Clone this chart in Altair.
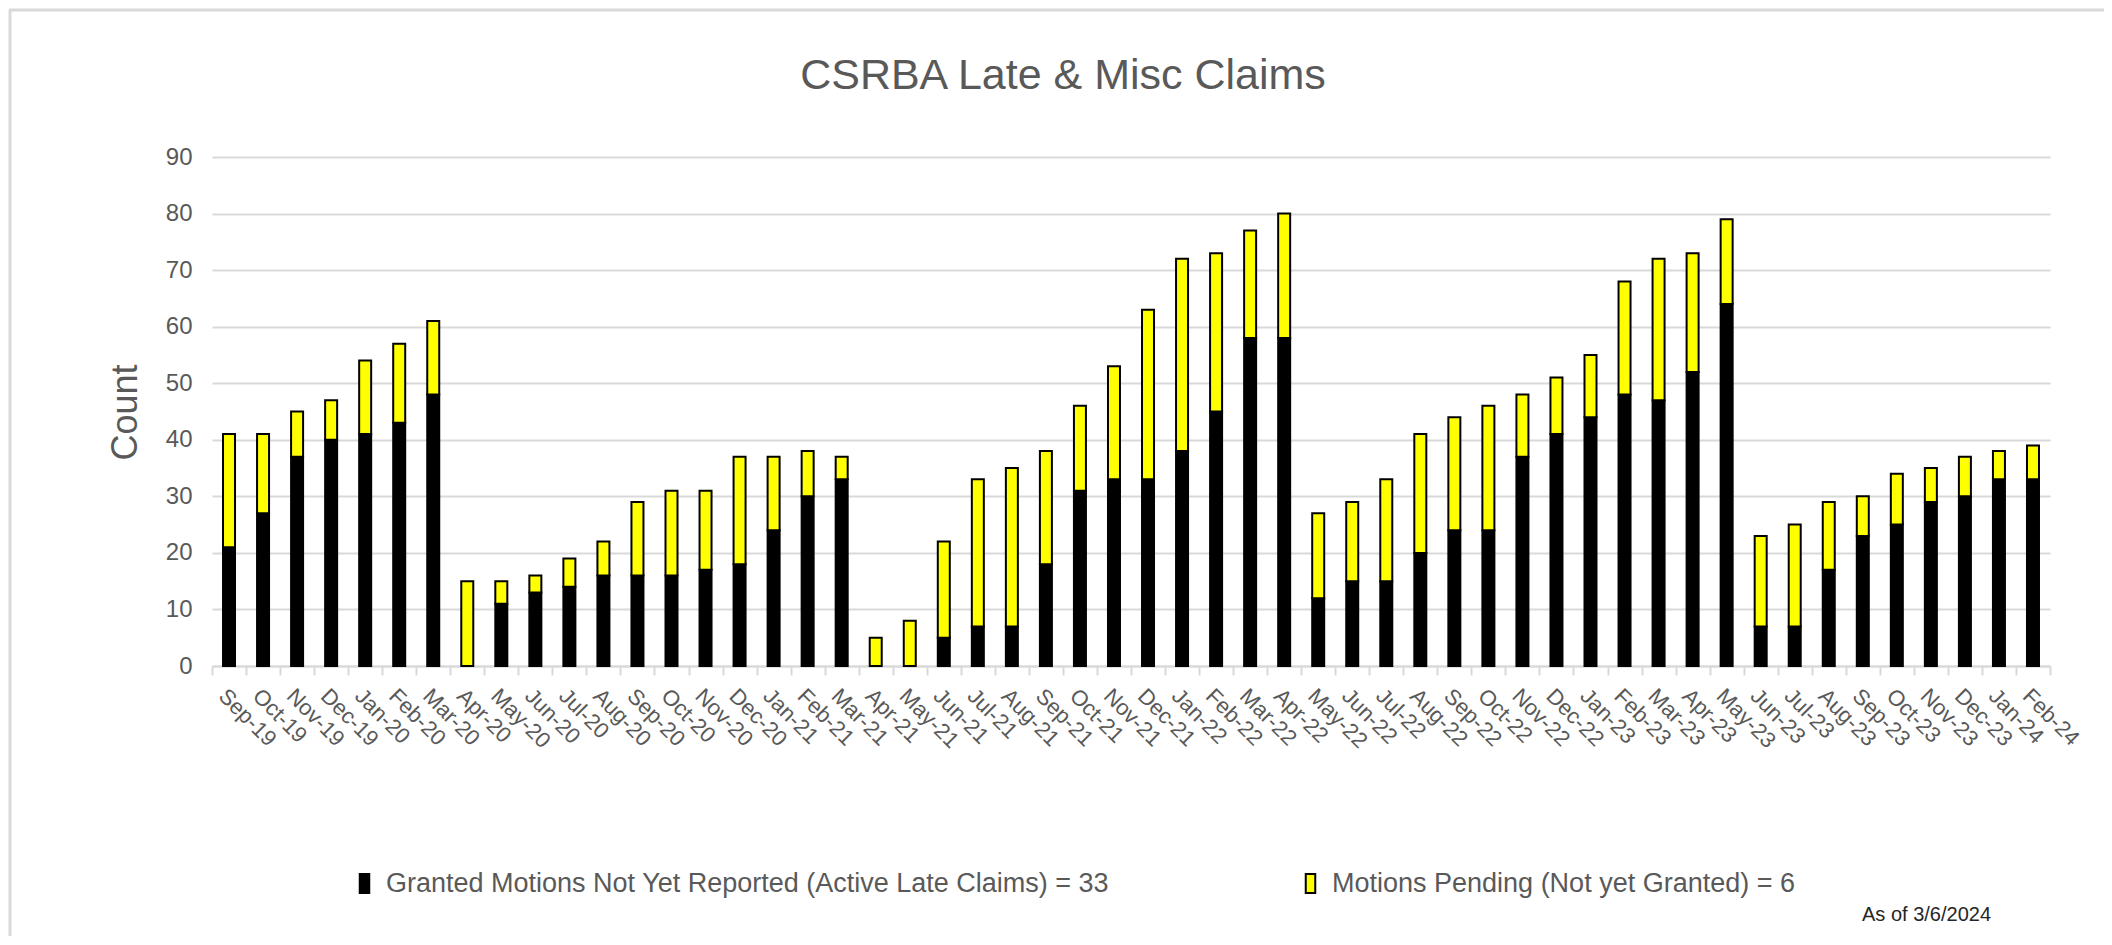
import altair as alt
import pandas as pd

months = ["Sep-19", "Oct-19", "Nov-19", "Dec-19",
          "Jan-20", "Feb-20", "Mar-20", "Apr-20", "May-20", "Jun-20", "Jul-20", "Aug-20", "Sep-20", "Oct-20", "Nov-20", "Dec-20",
          "Jan-21", "Feb-21", "Mar-21", "Apr-21", "May-21", "Jun-21", "Jul-21", "Aug-21", "Sep-21", "Oct-21", "Nov-21", "Dec-21",
          "Jan-22", "Feb-22", "Mar-22", "Apr-22", "May-22", "Jun-22", "Jul-22", "Aug-22", "Sep-22", "Oct-22", "Nov-22", "Dec-22",
          "Jan-23", "Feb-23", "Mar-23", "Apr-23", "May-23", "Jun-23", "Jul-23", "Aug-23", "Sep-23", "Oct-23", "Nov-23", "Dec-23",
          "Jan-24", "Feb-24"]

granted = [21, 27, 37, 40,
           41, 43, 48, 0, 11, 13, 14, 16, 16, 16, 17, 18,
           24, 30, 33, 0, 0, 5, 7, 7, 18, 31, 33, 33,
           38, 45, 58, 58, 12, 15, 15, 20, 24, 24, 37, 41,
           44, 48, 47, 52, 64, 7, 7, 17, 23, 25, 29, 30,
           33, 33]

pending = [20, 14, 8, 7,
           13, 14, 13, 15, 4, 3, 5, 6, 13, 15, 14, 19,
           13, 8, 4, 5, 8, 17, 26, 28, 20, 15, 20, 30,
           34, 28, 19, 22, 15, 14, 18, 21, 20, 22, 11, 10,
           11, 20, 25, 21, 15, 16, 18, 12, 7, 9, 6, 7,
           5, 6]

series_names = ["Granted Motions Not Yet Reported (Active Late Claims) = 33",
                "Motions Pending (Not yet Granted) = 6"]
series_colors = ["#000000", "#FFFF00"]
y_ticks = [0, 10, 20, 30, 40, 50, 60, 70, 80, 90]
title_text = "CSRBA Late & Misc Claims"
y_title = "Count"
note_text = "As of 3/6/2024"

rows = []
for m, g, p in zip(months, granted, pending):
    rows.append({"month": m, "series": series_names[0], "ord": 0, "count": g})
    rows.append({"month": m, "series": series_names[1], "ord": 1, "count": p})
df = pd.DataFrame(rows)

FONT = "Liberation Sans"
GRAY = "#595959"
GRID = "#d9d9d9"

bars = alt.Chart(df).mark_bar(size=12, stroke="black", strokeWidth=2).encode(
    x=alt.X("month:N", sort=months,
            scale=alt.Scale(paddingInner=0, paddingOuter=0),
            axis=alt.Axis(title=None, labelAngle=45, labelAlign="left", labelBaseline="top",
                          labelFontSize=22, labelColor=GRAY, labelPadding=10, labelOverlap=False,
                          labelFont=FONT, tickBand="extent", ticks=True, tickSize=9,
                          tickColor=GRID, tickWidth=2, domainColor=GRID, domainWidth=2,
                          grid=False)),
    y=alt.Y("count:Q", stack="zero",
            scale=alt.Scale(domain=[0, 90], nice=False),
            axis=alt.Axis(title=y_title, values=y_ticks, labelFontSize=24, labelColor=GRAY,
                          labelFont=FONT, labelPadding=20, domain=False, ticks=False,
                          grid=True, gridColor=GRID, gridWidth=2,
                          titleFontSize=36, titleColor=GRAY, titleFontWeight="normal",
                          titleFont=FONT, titleX=-87, titleY=255, titleAngle=270,
                          titleAlign="center", titleBaseline="middle")),
    color=alt.Color("series:N",
                    scale=alt.Scale(domain=series_names, range=series_colors),
                    legend=alt.Legend(title=None, orient="none", legendX=139, legendY=713,
                                      direction="horizontal", labelFontSize=27,
                                      labelColor=GRAY, labelFont=FONT, labelLimit=2000,
                                      symbolType="M-0.5,-1H0.5V1H-0.5Z", symbolSize=361,
                                      symbolStrokeColor="black", symbolStrokeWidth=2,
                                      columnPadding=187, labelOffset=8)),
    order=alt.Order("ord:Q", sort="ascending"),
)

note = alt.Chart(pd.DataFrame({"note": [note_text]})).mark_text(
    align="right", baseline="middle", fontSize=20, font=FONT, color="#262626"
).encode(x=alt.value(1779), y=alt.value(758), text="note:N")

frame_df = pd.DataFrame({"k": [0]})
border_left = alt.Chart(frame_df).mark_rule(color=GRID, strokeWidth=3).encode(
    x=alt.value(-202), y=alt.value(-147), y2=alt.value(800))
border_top = alt.Chart(frame_df).mark_rule(color=GRID, strokeWidth=3).encode(
    x=alt.value(-203), x2=alt.value(1920), y=alt.value(-147))

chart = alt.layer(bars, note, border_left, border_top).properties(
    width=1838, height=509,
    padding={"left": 204, "top": 149, "right": 54, "bottom": 270},
    autosize=alt.AutoSizeParams(type="none"),
    title=alt.TitleParams(title_text, fontSize=43, font=FONT, color=GRAY, fontWeight="normal",
                          anchor="middle", dx=-68, offset=-123, baseline="alphabetic"),
).configure(font=FONT).configure_view(stroke=None)

chart.save("out.html", embed_options={"renderer": "svg", "actions": False})
